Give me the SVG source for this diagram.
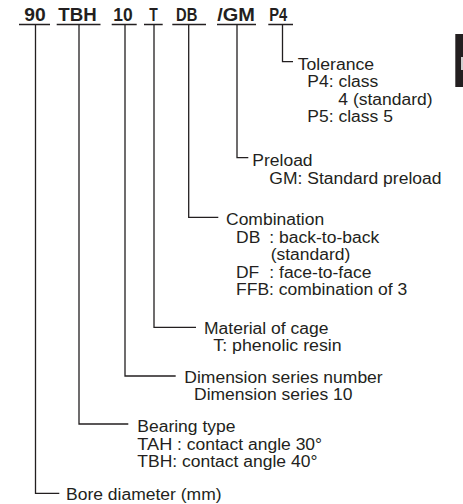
<svg xmlns="http://www.w3.org/2000/svg" width="463" height="504" viewBox="0 0 463 504">
<style>
text{font-family:"Liberation Sans",Arial,sans-serif;fill:#231f20}
.b{font-weight:bold;font-size:17.5px}
.t{font-size:15.6px}
.u{stroke:#231f20;stroke-width:1.5;fill:none}
.c{stroke:#231f20;stroke-width:1.3;fill:none}
</style>
<rect x="0" y="0" width="463" height="504" fill="#ffffff"/>
<g id="code">
<text class="b" x="24.3" y="21" textLength="21.4" lengthAdjust="spacingAndGlyphs">90</text>
<text class="b" x="58.3" y="21" textLength="38.4" lengthAdjust="spacingAndGlyphs">TBH</text>
<text class="b" x="113.3" y="21" textLength="19.4" lengthAdjust="spacingAndGlyphs">10</text>
<text class="b" x="149.3" y="21" textLength="8.5" lengthAdjust="spacingAndGlyphs">T</text>
<text class="b" x="176" y="21" textLength="21.3" lengthAdjust="spacingAndGlyphs">DB</text>
<text class="b" x="217.3" y="21" textLength="37.7" lengthAdjust="spacingAndGlyphs">/GM</text>
<text class="b" x="269.3" y="21" textLength="18" lengthAdjust="spacingAndGlyphs">P4</text>
<path class="u" d="M19,24.5H50M56.7,24.5H100.5M111.7,24.5H136.7M144,24.5H162.7M172.3,24.5H206M217,24.5H256M268.3,24.5H293"/>
</g>
<g id="connectors">
<path class="c" d="M282.5,24.5V61.7H293"/>
<path class="c" d="M237,24.5V157.7H248.3"/>
<path class="c" d="M188.7,24.5V217.3H218.3"/>
<path class="c" d="M154,24.5V327.3H196"/>
<path class="c" d="M125,24.5V376H175.7"/>
<path class="c" d="M79,24.5V424H128.3"/>
<path class="c" d="M35.5,24.5V493.3H59.3"/>
</g>
<g id="tolerance">
<text class="t" x="297.7" y="69.5" textLength="76.5" lengthAdjust="spacingAndGlyphs">Tolerance</text>
<text class="t" x="307.3" y="87" textLength="71" lengthAdjust="spacingAndGlyphs">P4: class</text>
<text class="t" x="338.3" y="104.5" textLength="94.3" lengthAdjust="spacingAndGlyphs">4 (standard)</text>
<text class="t" x="307.3" y="122" textLength="85.6" lengthAdjust="spacingAndGlyphs">P5: class 5</text>
</g>
<g id="preload">
<text class="t" x="252.3" y="166" textLength="60.3" lengthAdjust="spacingAndGlyphs">Preload</text>
<text class="t" x="269.3" y="183.5" textLength="172.2" lengthAdjust="spacingAndGlyphs">GM: Standard preload</text>
</g>
<g id="combination">
<text class="t" x="226" y="225" textLength="98.2" lengthAdjust="spacingAndGlyphs">Combination</text>
<text class="t" x="236" y="242.5" textLength="24.3" lengthAdjust="spacingAndGlyphs">DB</text>
<text class="t" x="269.3" y="242.5" textLength="109.9" lengthAdjust="spacingAndGlyphs">: back-to-back</text>
<text class="t" x="270.7" y="260" textLength="79.7" lengthAdjust="spacingAndGlyphs">(standard)</text>
<text class="t" x="236" y="277.5" textLength="23.3" lengthAdjust="spacingAndGlyphs">DF</text>
<text class="t" x="269.3" y="277.5" textLength="102.1" lengthAdjust="spacingAndGlyphs">: face-to-face</text>
<text class="t" x="236" y="295" textLength="171.2" lengthAdjust="spacingAndGlyphs">FFB: combination of 3</text>
</g>
<g id="cage">
<text class="t" x="204" y="333.5" textLength="124.5" lengthAdjust="spacingAndGlyphs">Material of cage</text>
<text class="t" x="213.3" y="350.5" textLength="128.4" lengthAdjust="spacingAndGlyphs">T: phenolic resin</text>
</g>
<g id="dimension">
<text class="t" x="184.3" y="382.5" textLength="198.4" lengthAdjust="spacingAndGlyphs">Dimension series number</text>
<text class="t" x="194" y="400" textLength="158.5" lengthAdjust="spacingAndGlyphs">Dimension series 10</text>
</g>
<g id="bearing">
<text class="t" x="137.3" y="432" textLength="98.2" lengthAdjust="spacingAndGlyphs">Bearing type</text>
<text class="t" x="137.3" y="449.5" textLength="35" lengthAdjust="spacingAndGlyphs">TAH</text>
<text class="t" x="177" y="449.5" textLength="145.1" lengthAdjust="spacingAndGlyphs">: contact angle 30°</text>
<text class="t" x="137.3" y="467" textLength="180.1" lengthAdjust="spacingAndGlyphs">TBH: contact angle 40°</text>
</g>
<g id="bore">
<text class="t" x="66" y="499.5" textLength="155.6" lengthAdjust="spacingAndGlyphs">Bore diameter (mm)</text>
</g>
<g id="tab">
<rect x="455.3" y="34" width="7.7" height="53" fill="#231f20"/>
<rect x="461" y="57" width="2" height="13" fill="#cfcfcf"/>
</g>
</svg>
